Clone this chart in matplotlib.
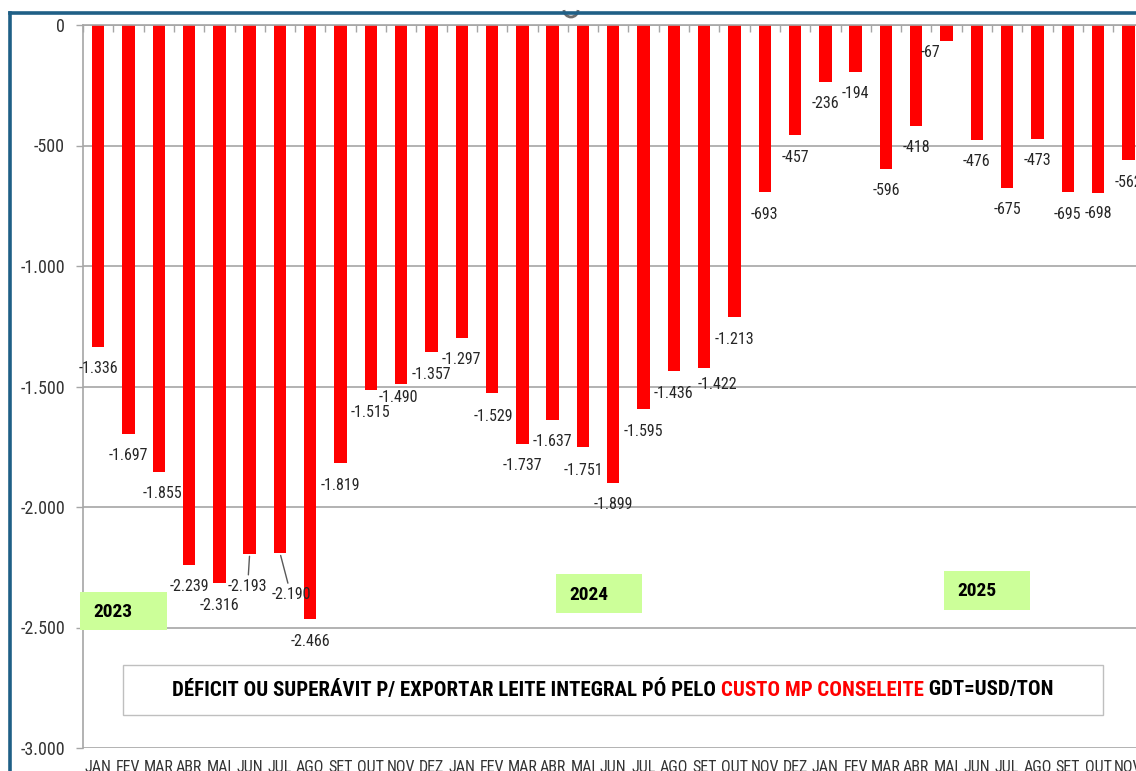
import matplotlib
matplotlib.use('Agg')
import matplotlib.pyplot as plt
from matplotlib import font_manager
from matplotlib.patches import Rectangle, Arc
from matplotlib.lines import Line2D
import numpy as np

# monthly deficit / surplus (USD/ton), JAN 2023 .. NOV 2025
months = ['JAN', 'FEV', 'MAR', 'ABR', 'MAI', 'JUN', 'JUL', 'AGO', 'SET', 'OUT', 'NOV', 'DEZ']
month_labels = months + months + months[:11]
values = [-1336, -1697, -1855, -2239, -2316, -2193, -2190, -2466, -1819, -1515, -1490, -1357,
          -1297, -1529, -1737, -1637, -1751, -1899, -1595, -1436, -1422, -1213, -693, -457,
          -236, -194, -596, -418, -67, -476, -675, -473, -695, -698, -562]
years = ['2023', '2024', '2025']
y_ticks = [0, -500, -1000, -1500, -2000, -2500, -3000]
title_black_1 = 'DÉFICIT OU SUPERÁVIT P/ EXPORTAR LEITE INTEGRAL PÓ PELO '
title_red = 'CUSTO MP CONSELEITE'
title_black_2 = ' GDT=USD/TON'

# pick the narrowest sans family that is installed
installed = {f.name for f in font_manager.fontManager.ttflist}
narrow = next((f for f in ['Liberation Sans Narrow', 'DejaVu Sans Condensed', 'Roboto Condensed',
                           'Liberation Sans', 'Roboto'] if f in installed), 'DejaVu Sans')
plt.rcParams['font.family'] = [narrow, 'DejaVu Sans']

W, H = 1136, 771
fig = plt.figure(figsize=(W / 100, H / 100), dpi=100)
fig.patch.set_facecolor('white')


def fx(x):
    return x / W


def fy(y):
    return 1 - y / H


def br(v):
    return f'{v:,.0f}'.replace(',', '.')


step = 30.3
n = len(values)
ax = fig.add_axes([fx(83), fy(748), n * step / W, 723 / H])
x = np.arange(n)
ax.bar(x, values, width=0.41, color='#FF0000', zorder=2)
ax.set_xlim(-0.5, n - 0.5)
ax.set_ylim(-3000, 0)

grey = '#A6A6A6'
ax.set_yticks(y_ticks)
ax.set_yticklabels([br(v) for v in y_ticks])
ax.yaxis.grid(True, color=grey, lw=1.2, zorder=0)
ax.tick_params(axis='y', length=5, width=1, color=grey, pad=8, labelsize=13, labelcolor='#333333')

ax.set_xticks(x)
ax.set_xticklabels(month_labels)
ax.tick_params(axis='x', which='major', length=0, pad=9, labelsize=11.5, labelcolor='#333333')
ax.set_xticks(np.arange(-0.5, n, 1), minor=True)
ax.tick_params(axis='x', which='minor', bottom=False, top=True, direction='in', length=5, width=1, color=grey)

for s in ['right', 'bottom']:
    ax.spines[s].set_visible(False)
for s in ['top', 'left']:
    ax.spines[s].set_color(grey)
    ax.spines[s].set_linewidth(1.2)

# data labels: offsets in pixels (dx right, dy down) from bar end
offsets = {2: (4, 21), 5: (-2, 33), 6: (11, 42), 10: (-3, 13), 13: (1, 23), 16: (0, 24),
           20: (13, 17), 28: (-16, 11), 33: (0, 20)}
leaders = {5, 6}
for i, v in enumerate(values):
    dx, dy = offsets.get(i, (0, 22))
    kw = {}
    if i in leaders:
        kw['arrowprops'] = dict(arrowstyle='-', color='#595959', lw=1, shrinkA=1, shrinkB=2)
    ax.annotate(br(v), xy=(i, v), xytext=(dx, -dy), textcoords='offset pixels',
                ha='center', va='center', fontsize=11.5, color='#262626', zorder=5,
                annotation_clip=False, **kw)

# year boxes
year_boxes = [(80, 592, 167, 630, 93), (556, 574, 642, 613, 569), (944, 571, 1030, 610, 957)]
for yr, (x0, y0, x1, y1, tx) in zip(years, year_boxes):
    fig.patches.append(Rectangle((fx(x0), fy(y1)), (x1 - x0) / W, (y1 - y0) / H,
                                 transform=fig.transFigure, facecolor='#CCFF99', edgecolor='none', zorder=3))
    fig.text(fx(tx), fy((y0 + y1) / 2 + 1), yr, ha='left', va='center', fontsize=14,
             fontweight='bold', color='black', zorder=4)

# title box
fig.patches.append(Rectangle((fx(123), fy(715)), (1103 - 123) / W, 50 / H, transform=fig.transFigure,
                             facecolor='white', edgecolor='#BFBFBF', lw=1, zorder=3))
tkw = dict(fontsize=14, fontweight='bold', va='center', ha='left', zorder=4)
parts = [fig.text(0, fy(690), s, color=c, **tkw)
         for s, c in [(title_black_1, 'black'), (title_red, '#FF0000'), (title_black_2, 'black')]]
fig.canvas.draw()
r = fig.canvas.get_renderer()
total = sum(t.get_window_extent(r).width for t in parts)
for t in parts:
    t.set_fontsize(14 * 883 / total)
fig.canvas.draw()
ws = [t.get_window_extent(r).width for t in parts]
pos = 613 - sum(ws) / 2
for t, w in zip(parts, ws):
    t.set_x(fx(pos))
    pos += w

# outer frame of the embedded chart
blue = '#1F5F86'
fig.add_artist(Arc((571, H - 10), 14, 14, theta1=180, theta2=360, transform=None,
                   color='#6E6E6E', lw=2, zorder=5))
fig.add_artist(Line2D([fx(10), fx(10)], [fy(13), 0], transform=fig.transFigure, color=blue, lw=2.6, zorder=6))
fig.add_artist(Line2D([fx(10), 1], [fy(13), fy(13)], transform=fig.transFigure, color=blue, lw=2.6, zorder=6))

fig.savefig('out.png', dpi=100)
